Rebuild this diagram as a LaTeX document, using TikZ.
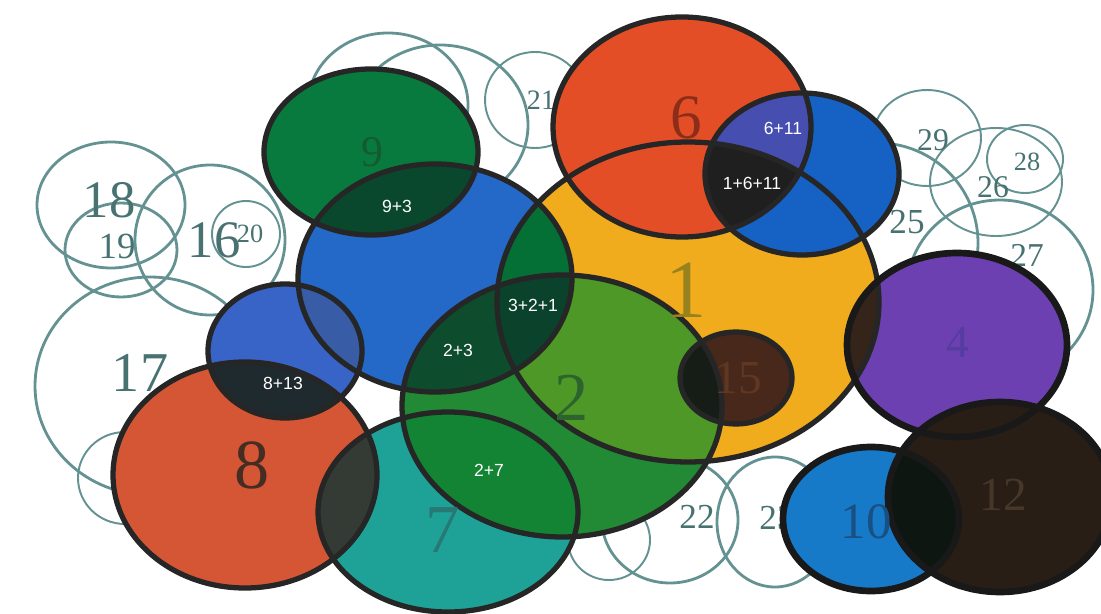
\documentclass[tikz,border=0pt]{standalone}
\usepackage{fontspec}
\setmainfont{Liberation Serif}
\newfontfamily\sumfont{Liberation Sans}

\definecolor{cone}{RGB}{240,172,28}
\definecolor{csix}{RGB}{228,78,38}
\definecolor{celeven}{RGB}{22,98,196}
\definecolor{csixeleven}{RGB}{70,78,176}
\definecolor{cnine}{RGB}{8,122,62}
\definecolor{cthree}{RGB}{36,104,200}
\definecolor{cninethree}{RGB}{10,72,46}
\definecolor{ctwo}{RGB}{34,138,52}
\definecolor{ctwoone}{RGB}{78,152,40}
\definecolor{cthreeone}{RGB}{4,112,54}
\definecolor{ctwothree}{RGB}{14,76,46}
\definecolor{cthreetwoone}{RGB}{10,66,44}
\definecolor{cseven}{RGB}{30,162,152}
\definecolor{ctwoseven}{RGB}{18,132,52}
\definecolor{ceight}{RGB}{212,86,52}
\definecolor{csevenneight}{RGB}{52,58,52}
\definecolor{cthirteen}{RGB}{56,100,200}
\definecolor{cthirteenthree}{RGB}{56,92,165}
\definecolor{ceightthirteen}{RGB}{30,42,46}
\definecolor{cfifteen}{RGB}{72,40,26}
\definecolor{cfifteentwo}{RGB}{22,28,22}
\definecolor{cfour}{RGB}{108,64,176}
\definecolor{cfourone}{RGB}{52,36,26}
\definecolor{ctwelve}{RGB}{40,30,22}
\definecolor{cten}{RGB}{22,122,200}
\definecolor{ctentwelve}{RGB}{14,22,18}
\definecolor{ringgray}{RGB}{100,146,146}
\definecolor{numgray}{RGB}{72,114,114}
\definecolor{tsix}{RGB}{140,45,25}
\definecolor{tone}{RGB}{150,130,30}
\definecolor{ttwo}{RGB}{45,100,45}
\definecolor{tnine}{RGB}{20,90,50}
\definecolor{tseven}{RGB}{40,120,115}
\definecolor{teight}{RGB}{70,45,35}
\definecolor{tfour}{RGB}{85,60,160}
\definecolor{tfifteen}{RGB}{95,55,35}
\definecolor{ttwelve}{RGB}{70,55,40}
\definecolor{tten}{RGB}{25,80,130}

\newcommand{\ovone}{(688,302) ellipse [x radius=191, y radius=160]}
\newcommand{\ovsix}{(682,127) ellipse [x radius=129, y radius=110]}
\newcommand{\oveleven}{(802,174) ellipse [x radius=97, y radius=81]}
\newcommand{\ovnine}{(371,152) ellipse [x radius=107, y radius=83]}
\newcommand{\ovthree}{(435,278) ellipse [x radius=137, y radius=114]}
\newcommand{\ovtwo}{(562,406) ellipse [x radius=160, y radius=131]}
\newcommand{\ovseven}{(448,512) ellipse [x radius=130, y radius=100]}
\newcommand{\oveight}{(245,475) ellipse [x radius=132, y radius=113]}
\newcommand{\ovthirteen}{(285,351) ellipse [x radius=77, y radius=67]}
\newcommand{\ovfifteen}{(736,378) ellipse [x radius=56, y radius=46]}
\newcommand{\ovfour}{(957,345) ellipse [x radius=110, y radius=92]}
\newcommand{\ovtwelve}{(1000,497) ellipse [x radius=112, y radius=95]}
\newcommand{\ovten}{(871,519) ellipse [x radius=88, y radius=72]}

\tikzset{
  bgring/.style={draw=ringgray, line width=1.6pt},
  thinring/.style={draw=ringgray, line width=1.1pt},
  bgnum/.style={text=numgray, inner sep=0pt, font=\fontsize{#1}{#1}\selectfont},
  bignum/.style 2 args={text=#1, inner sep=0pt, font=\fontsize{#2}{#2}\selectfont},
  sumlbl/.style={text=white, inner sep=0pt, font=\sumfont\fontsize{10}{10}\selectfont},
  rim/.style={draw=black!85, line width=3pt},
  fatrim/.style={draw=black!90, line width=3.8pt}
}

\begin{document}
\begin{tikzpicture}[x=0.02cm,y=-0.02cm]
\useasboundingbox (0,0) rectangle (1101,614);
\clip (0,0) rectangle (1101,614);

\draw[bgring] (111,205) ellipse [x radius=74, y radius=63];
\draw[bgring] (121,250) ellipse [x radius=56, y radius=47];
\draw[bgring] (210,240) ellipse [x radius=75, y radius=75];
\draw[thinring] (246,234) ellipse [x radius=34, y radius=33];
\draw[bgring] (150,386) ellipse [x radius=115, y radius=109];
\draw[thinring] (125,478) ellipse [x radius=47, y radius=46];
\draw[bgring] (388,105) ellipse [x radius=80, y radius=72];
\draw[bgring] (440,125) ellipse [x radius=88, y radius=80];
\draw[thinring] (535,100) ellipse [x radius=50, y radius=48];
\draw[thinring] (609,540) ellipse [x radius=41, y radius=40];
\draw[bgring] (670,520) ellipse [x radius=68, y radius=63];
\draw[bgring] (775,522) ellipse [x radius=58, y radius=65];
\draw[thinring] (927,138) ellipse [x radius=54, y radius=48];
\draw[thinring] (1025,159) ellipse [x radius=38, y radius=34];
\draw[thinring] (996,182) ellipse [x radius=66, y radius=54];
\draw[bgring] (878,243) ellipse [x radius=100, y radius=100];
\draw[bgring] (1000,290) ellipse [x radius=93, y radius=90];

\node[bgnum=30] (n18) at (109,200) {18};
\node[bgnum=21] (n19) at (117,246) {19};
\node[bgnum=15] (n20) at (250,234) {20};
\node[bgnum=30] (n16) at (214,240) {16};
\node[bgnum=32] (n17) at (140,373) {17};
\node[bgnum=16] (n21) at (541,100) {21};
\node[bgnum=20] (n22) at (697,517) {22};
\node[bgnum=20] (n23) at (777,518) {23};
\node[bgnum=18] (n29) at (933,140) {29};
\node[bgnum=15] (n28) at (1027,162) {28};
\node[bgnum=18] (n26) at (993,187) {26};
\node[bgnum=20] (n25) at (907,222) {25};
\node[bgnum=19] (n27) at (1027,255) {27};

\fill[cone] \ovone;
\fill[csix] \ovsix;
\fill[celeven] \oveleven;
\begin{scope}
\clip \ovsix;
\fill[csixeleven] \oveleven;
\clip \oveleven;
\fill[black!88] \ovone;
\end{scope}

\fill[cnine] \ovnine;
\fill[cthree] \ovthree;
\begin{scope}
\clip \ovnine;
\fill[cninethree] \ovthree;
\end{scope}

\fill[ctwo] \ovtwo;
\begin{scope}
\clip \ovthree;
\fill[ctwothree] \ovtwo;
\end{scope}
\begin{scope}
\clip \ovone;
\fill[ctwoone] \ovtwo;
\fill[cthreeone] \ovthree;
\clip \ovtwo;
\fill[cthreetwoone] \ovthree;
\end{scope}

\fill[cseven] \ovseven;
\begin{scope}
\clip \ovtwo;
\fill[ctwoseven] \ovseven;
\end{scope}
\fill[ceight] \oveight;
\begin{scope}
\clip \oveight;
\fill[csevenneight] \ovseven;
\end{scope}
\fill[cthirteen] \ovthirteen;
\begin{scope}
\clip \ovthirteen;
\fill[cthirteenthree] \ovthree;
\fill[ceightthirteen] \oveight;
\end{scope}

\fill[cfifteen] \ovfifteen;
\begin{scope}
\clip \ovfifteen;
\fill[cfifteentwo] \ovtwo;
\end{scope}
\fill[cfour] \ovfour;
\begin{scope}
\clip \ovfour;
\fill[cfourone] \ovone;
\end{scope}
\fill[ctwelve] \ovtwelve;
\fill[cten] \ovten;
\begin{scope}
\clip \ovten;
\fill[ctentwelve] \ovtwelve;
\end{scope}

\draw[rim] \ovone;
\draw[rim] \ovsix;
\draw[rim] \oveleven;
\draw[rim] \ovnine;
\draw[rim] \ovthree;
\draw[rim] \ovtwo;
\draw[rim] \ovseven;
\draw[rim] \oveight;
\draw[rim] \ovthirteen;
\draw[rim] \ovfifteen;
\draw[fatrim] \ovfour;
\draw[fatrim] \ovtwelve;
\draw[fatrim] \ovten;

\node[bignum={tsix}{36}] (n6) at (686,118) {6};
\node[bignum={tone}{47}] (n1) at (686,290) {1};
\node[bignum={ttwo}{39}] (n2) at (572,398) {2};
\node[bignum={tnine}{25}] (n9) at (372,152) {9};
\node[bignum={tseven}{39}] (n7) at (443,530) {7};
\node[bignum={teight}{40}] (n8) at (252,465) {8};
\node[bignum={tfour}{26}] (n4) at (958,342) {4};
\node[bignum={tfifteen}{27}] (n15) at (738,378) {15};
\node[bignum={ttwelve}{27}] (n12) at (1003,495) {12};
\node[bignum={tten}{29}] (n10) at (866,522) {10};

\node[sumlbl] (s93) at (397,206) {9+3};
\node[sumlbl] (s611) at (783,128) {6+11};
\node[sumlbl] (s1611) at (752,183) {1+6+11};
\node[sumlbl] (s321) at (533,305) {3+2+1};
\node[sumlbl] (s23) at (458,350) {2+3};
\node[sumlbl] (s813) at (283,383) {8+13};
\node[sumlbl] (s27) at (489,470) {2+7};

\end{tikzpicture}
\end{document}
